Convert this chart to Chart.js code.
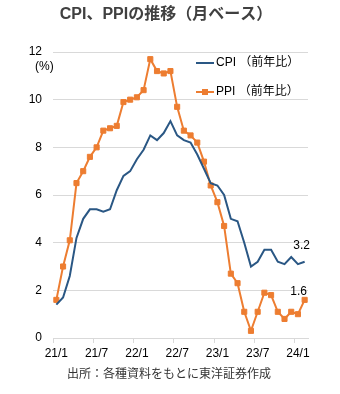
<!DOCTYPE html>
<html>
<head>
<meta charset="utf-8">
<script src="https://cdn.jsdelivr.net/npm/chart.js@4/dist/chart.umd.min.js"></script>
<style>
  body { margin: 0; background: #fff; }
  #wrap { position: relative; width: 340px; height: 394px; }
</style>
</head>
<body>
<div id="wrap"><canvas id="chart"></canvas></div>
<script>
// 月次データ（前年比, %）
const months = [
  '21/1', '21/2', '21/3', '21/4', '21/5', '21/6', '21/7', '21/8', '21/9', '21/10', '21/11', '21/12',
  '22/1', '22/2', '22/3', '22/4', '22/5', '22/6', '22/7', '22/8', '22/9', '22/10', '22/11', '22/12',
  '23/1', '23/2', '23/3', '23/4', '23/5', '23/6', '23/7', '23/8', '23/9', '23/10', '23/11', '23/12',
  '24/1', '24/2'
];
const cpi = [
  1.4, 1.7, 2.6, 4.2, 5.0, 5.4, 5.4, 5.3, 5.4, 6.2, 6.8, 7.0,
  7.5, 7.9, 8.5, 8.3, 8.6, 9.1, 8.5, 8.3, 8.2, 7.7, 7.1, 6.5,
  6.4, 6.0, 5.0, 4.9, 4.0, 3.0, 3.2, 3.7, 3.7, 3.2, 3.1, 3.4,
  3.1, 3.2
];
const ppi = [
  1.6, 3.0, 4.1, 6.5, 7.0, 7.6, 8.0, 8.7, 8.8, 8.9, 9.9, 10.0,
  10.1, 10.4, 11.7, 11.2, 11.1, 11.2, 9.7, 8.7, 8.5, 8.2, 7.4, 6.4,
  5.7, 4.7, 2.7, 2.3, 1.1, 0.3, 1.1, 1.9, 1.8, 1.1, 0.8, 1.1,
  1.0, 1.6
];
const yTicks = [0, 2, 4, 6, 8, 10, 12];

const FONT = '"Liberation Sans", "Noto Sans CJK JP", sans-serif';
const BLUE = '#2a5784';
const ORANGE = '#ed7d31';
const GRID = '#d9d9d9';
const TEXT = '#333333';

Chart.defaults.font.family = FONT;
Chart.defaults.font.size = 12;
Chart.defaults.color = TEXT;

// タイトル・凡例・出所・末尾の数値をキャンバスに直接描く
const overlay = {
  id: 'overlay',
  afterDraw(chart) {
    const ctx = chart.ctx;
    ctx.save();
    ctx.textBaseline = 'middle';

    ctx.font = 'bold 16px ' + FONT;
    ctx.fillStyle = '#404040';
    ctx.textAlign = 'center';
    ctx.fillText('CPI、PPIの推移（月ベース）', 166, 15);

    ctx.font = '12px ' + FONT;
    ctx.fillStyle = TEXT;
    ctx.fillText('出所：各種資料をもとに東洋証券作成', 169, 375);

    ctx.textAlign = 'left';
    ctx.fillStyle = '#000';
    ctx.fillText('(%)', 35, 67);

    // 凡例
    const items = [
      { text: 'CPI （前年比）', color: BLUE, y: 63, marker: false },
      { text: 'PPI （前年比）', color: ORANGE, y: 92, marker: true }
    ];
    items.forEach(it => {
      ctx.strokeStyle = it.color;
      ctx.lineWidth = 2;
      ctx.beginPath();
      ctx.moveTo(196, it.y);
      ctx.lineTo(214, it.y);
      ctx.stroke();
      if (it.marker) {
        ctx.fillStyle = it.color;
        ctx.fillRect(202, it.y - 3, 6, 6);
      }
      ctx.fillStyle = '#000';
      ctx.fillText(it.text, 216, it.y);
    });

    // 最新値ラベル
    const offsets = [{ dx: -3, dy: -16 }, { dx: -6, dy: -8 }];
    chart.data.datasets.forEach((ds, i) => {
      const meta = chart.getDatasetMeta(i);
      const last = meta.data[meta.data.length - 1];
      ctx.textAlign = 'center';
      ctx.fillStyle = '#000';
      ctx.fillText(ds.data[ds.data.length - 1].toFixed(1), last.x + offsets[i].dx, last.y + offsets[i].dy);
    });
    ctx.restore();
  }
};

new Chart(document.getElementById('chart'), {
  type: 'line',
  data: {
    labels: months,
    datasets: [
      {
        label: 'CPI （前年比）',
        data: cpi,
        borderColor: BLUE,
        borderWidth: 2,
        pointRadius: 0,
        tension: 0
      },
      {
        label: 'PPI （前年比）',
        data: ppi,
        borderColor: ORANGE,
        borderWidth: 2,
        pointStyle: 'rect',
        pointRadius: 3.6,
        pointBackgroundColor: ORANGE,
        pointBorderColor: ORANGE,
        pointBorderWidth: 1,
        tension: 0
      }
    ]
  },
  options: {
    responsive: true,
    maintainAspectRatio: false,
    animation: false,
    layout: { padding: { top: 52, right: 32, left: 0, bottom: 0 } },
    scales: {
      x: {
        offset: true,
        grid: {
          offset: true,
          drawOnChartArea: false,
          drawTicks: true,
          tickLength: 5,
          color: ctx => ctx.index % 6 === 0 ? GRID : 'rgba(0,0,0,0)'
        },
        border: { color: GRID },
        ticks: {
          autoSkip: false,
          maxRotation: 0,
          padding: 3,
          color: '#000',
          callback: (v, i) => i % 6 === 0 ? months[i] : ''
        },
        afterFit: s => { s.height = 56; }
      },
      y: {
        min: 0,
        max: 12,
        afterBuildTicks: s => { s.ticks = yTicks.map(v => ({ value: v })); },
        grid: { color: GRID, drawTicks: false },
        border: { display: false },
        ticks: { padding: 11, color: '#000' },
        afterFit: s => { s.width = 53; }
      }
    },
    plugins: {
      legend: { display: false },
      tooltip: { enabled: false }
    }
  },
  plugins: [overlay]
});
</script>
</body>
</html>
